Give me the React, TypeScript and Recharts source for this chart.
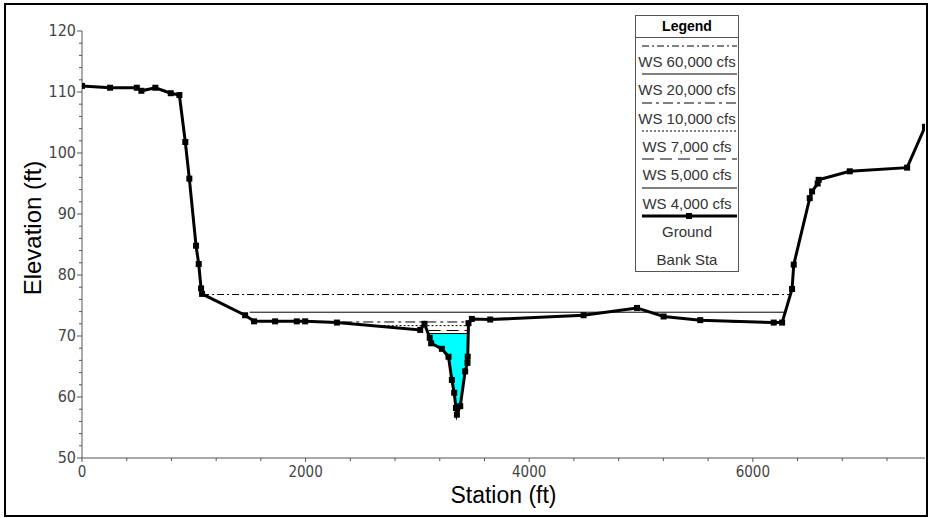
import { Area, ComposedChart, Line, XAxis, YAxis } from "recharts";

// ground profile
const groundStation = [
  0, 251, 490, 531, 656, 794, 871, 924, 960, 1020, 1044, 1065, 1074, 1459, 1539, 1727, 1921,
  1996, 2280, 3025, 3063, 3110, 3123, 3219, 3278, 3308, 3329, 3345, 3353, 3383, 3427, 3448,
  3450, 3457, 3487, 3651, 4486, 4964, 5202, 5530, 6187, 6262, 6351, 6366, 6509, 6530, 6580,
  6589, 6867, 7380, 7540
];
const groundElev = [
  111.0, 110.7, 110.7, 110.2, 110.7, 109.8, 109.5, 101.8, 95.8, 84.8, 81.8, 77.8, 76.9, 73.4,
  72.4, 72.4, 72.4, 72.4, 72.2, 71.0, 72.0, 69.7, 68.8, 67.9, 66.6, 62.8, 60.7, 58.2, 57.1,
  58.5, 64.2, 65.6, 66.6, 72.1, 72.8, 72.7, 73.4, 74.6, 73.2, 72.6, 72.2, 72.2, 77.7, 81.7,
  92.6, 93.7, 95.0, 95.6, 97.0, 97.6, 104.3
];

// water surfaces
const wsNames = ["WS 60,000 cfs", "WS 20,000 cfs", "WS 10,000 cfs", "WS 7,000 cfs", "WS 5,000 cfs", "WS 4,000 cfs"];
const wsElev = [76.8, 73.9, 72.3, 71.7, 70.9, 70.4];
const wsReaches = [
  [[1074, 6345]],
  [[1500, 6290]],
  [[2140, 3455], [5800, 6300]],
  [[2590, 3455]],
  [[3100, 3455]],
  [[3096, 3455]]
];
const wsDash = ["7 3 2 3", "", "10 4 3 4", "2 2", "12 6", ""];

// wetted edges of the lowest profile (filled)
const fillEdges = [3096, 3455];

const xTicks = [0, 400, 800, 1200, 1600, 2000, 2400, 2800, 3200, 3600, 4000, 4400, 4800, 5200, 5600, 6000, 6400, 6800, 7200];
const xLabels = [0, 2000, 4000, 6000];
const yTicks = [50, 52, 54, 56, 58, 60, 62, 64, 66, 68, 70, 72, 74, 76, 78, 80, 82, 84, 86, 88, 90, 92, 94, 96, 98, 100, 102, 104, 106, 108, 110, 112, 114, 116, 118, 120];
const yLabels = [50, 60, 70, 80, 90, 100, 110, 120];

const tickFont = "'Liberation Sans Narrow', 'Arial Narrow', 'DejaVu Sans Condensed', sans-serif";
const axisColor = "#555";

const groundData = groundStation.map((x, i) => ({ x, y: groundElev[i] }));

const fillData = [
  { x: fillEdges[0], range: [wsElev[5], wsElev[5]] },
  ...groundStation
    .map((x, i) => ({ x, range: [groundElev[i], wsElev[5]] }))
    .filter((d) => d.x > fillEdges[0] && d.x < fillEdges[1] && d.range[0] < wsElev[5]),
  { x: fillEdges[1], range: [wsElev[5], wsElev[5]] }
];

function XTick(props: any) {
  const { x, y, payload } = props;
  const major = xLabels.includes(payload.value);
  return (
    <g>
      <line x1={x} y1={y} x2={x} y2={y + (major ? 4 : 3)} stroke={axisColor} />
      {major && (
        <text x={x} y={y + 19} textAnchor="middle" fontSize={15} fontFamily={tickFont} fill="#444">
          {payload.value}
        </text>
      )}
    </g>
  );
}

function YTick(props: any) {
  const { x, y, payload } = props;
  const major = yLabels.includes(payload.value);
  return (
    <g>
      <line x1={x - (major ? 5 : 3)} y1={y} x2={x} y2={y} stroke={axisColor} />
      {major && (
        <text x={x - 6} y={y + 5} textAnchor="end" fontSize={16} fontFamily={tickFont} fill="#444">
          {payload.value}
        </text>
      )}
    </g>
  );
}

function GroundDot(props: any) {
  const { cx, cy, index } = props;
  return <rect key={`g${index}`} x={cx - 3} y={cy - 3} width={6} height={6} fill="#000" />;
}

function LegendBox() {
  const labels = [...wsNames, "Ground", "Bank Sta"];
  return (
    <div
      style={{
        position: "absolute",
        left: 635,
        top: 15,
        width: 104,
        height: 257,
        boxSizing: "border-box",
        border: "1px solid #555",
        background: "#fff",
        fontFamily: "'Liberation Sans', Arial, sans-serif"
      }}
    >
      <div
        style={{
          height: 21,
          lineHeight: "21px",
          borderBottom: "1px solid #555",
          textAlign: "center",
          fontWeight: "bold",
          fontSize: 14,
          color: "#000"
        }}
      >
        Legend
      </div>
      {labels.map((label, i) => (
        <div key={label}>
          {i < 7 && (
            <svg style={{ position: "absolute", left: 0, top: 24 + i * 28.3 }} width={102} height={12}>
              <line
                x1={6}
                x2={101}
                y1={6}
                y2={6}
                stroke="#000"
                strokeWidth={i === 6 ? 3 : 1}
                strokeDasharray={i < 6 ? wsDash[i] : undefined}
              />
              {i === 6 && <rect x={50} y={3} width={6} height={6} fill="#000" />}
            </svg>
          )}
          <div
            style={{
              position: "absolute",
              left: 0,
              width: 102,
              top: 37 + i * 28.3,
              textAlign: "center",
              fontSize: 15,
              lineHeight: "17px",
              color: "#333",
              whiteSpace: "nowrap"
            }}
          >
            {label}
          </div>
        </div>
      ))}
    </div>
  );
}

export default function App() {
  return (
    <div style={{ position: "absolute", left: 0, top: 0, width: 930, height: 518, background: "#fff" }}>
      <div
        style={{
          position: "absolute",
          left: 4,
          top: 3,
          width: 924,
          height: 514,
          boxSizing: "border-box",
          border: "2px solid #000"
        }}
      />
      <ComposedChart width={930} height={518} margin={{ top: 31, right: 5, bottom: 30, left: 22 }}>
        <XAxis
          type="number"
          dataKey="x"
          domain={[0, 7540]}
          ticks={xTicks}
          interval={0}
          tickSize={0}
          tickMargin={0}
          tick={<XTick />}
          height={30}
          stroke={axisColor}
          allowDataOverflow
          label={({ viewBox }: any) => (
            <text
              x={viewBox.x + viewBox.width / 2}
              y={503}
              textAnchor="middle"
              fontSize={23}
              fontFamily="'Liberation Sans', Arial, sans-serif"
              fill="#000"
            >
              Station (ft)
            </text>
          )}
        />
        <YAxis
          type="number"
          domain={[50, 120]}
          ticks={yTicks}
          interval={0}
          tickSize={0}
          tickMargin={0}
          tick={<YTick />}
          width={60}
          stroke={axisColor}
          allowDataOverflow
          label={() => (
            <text
              x={41}
              y={228}
              transform="rotate(-90, 41, 228)"
              textAnchor="middle"
              fontSize={24}
              fontFamily="'Liberation Sans', Arial, sans-serif"
              fill="#000"
            >
              Elevation (ft)
            </text>
          )}
        />
        <Area
          data={fillData}
          dataKey="range"
          type="linear"
          stroke="none"
          fill="#00ffff"
          fillOpacity={1}
          isAnimationActive={false}
        />
        {wsReaches.flatMap((segments, i) =>
          segments.map((seg, j) => (
            <Line
              key={`ws${i}-${j}`}
              data={[
                { x: seg[0], y: wsElev[i] },
                { x: seg[1], y: wsElev[i] }
              ]}
              dataKey="y"
              type="linear"
              stroke="#000"
              strokeWidth={1}
              strokeDasharray={wsDash[i] || undefined}
              dot={false}
              activeDot={false}
              isAnimationActive={false}
            />
          ))
        )}
        <Line
          data={groundData}
          dataKey="y"
          type="linear"
          stroke="#000"
          strokeWidth={3}
          dot={<GroundDot />}
          activeDot={false}
          isAnimationActive={false}
        />
      </ComposedChart>
      <LegendBox />
    </div>
  );
}
